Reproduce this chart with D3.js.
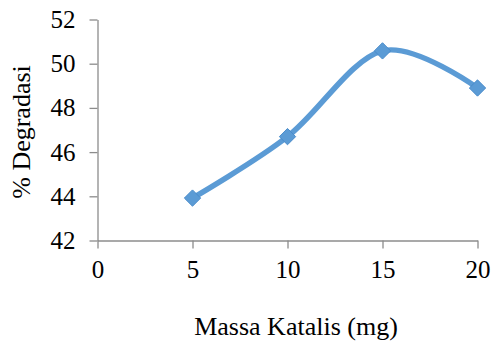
<!DOCTYPE html>
<html><head><meta charset="utf-8">
<script src="https://cdn.jsdelivr.net/npm/d3@7"></script>
<style>body{margin:0;background:#fff}svg{display:block}text{font-family:"Liberation Serif","Times New Roman",serif}</style>
</head><body>
<script>
const massa = [5, 10, 15, 20];
const degradasi = [43.92, 46.7, 50.58, 48.9];
const xTicks = [0, 5, 10, 15, 20];
const yTicks = [42, 44, 46, 48, 50, 52];
const xTitle = "Massa Katalis (mg)";
const yTitle = "% Degradasi";

const W = 494, H = 343;
const svg = d3.select("body").append("svg").attr("width", W).attr("height", H);
const x = d3.scaleLinear().domain([0, 20]).range([97.5, 477.5]);
const y = d3.scaleLinear().domain([42, 52]).range([240.5, 19.5]);
const font = "Liberation Serif";
const axisColor = "#8c8c8c";

const gx = svg.append("g").attr("transform", `translate(0,${y(42)})`)
  .call(d3.axisBottom(x).tickValues(xTicks).tickSize(8).tickSizeOuter(0).tickPadding(12));
const gy = svg.append("g").attr("transform", `translate(${x(0)},0)`)
  .call(d3.axisLeft(y).tickValues(yTicks).tickSize(8).tickSizeOuter(0).tickPadding(14));
[gx, gy].forEach(g => {
  g.attr("font-family", font).attr("font-size", 25);
  g.select(".domain").attr("stroke", axisColor).attr("stroke-width", 1.3);
  g.selectAll(".tick line").attr("stroke", axisColor).attr("stroke-width", 1.3);
  g.selectAll(".tick text").attr("fill", "#000");
});

const line = d3.line().x((d, i) => x(massa[i])).y(d => y(d)).curve(d3.curveCatmullRom.alpha(0));
svg.append("path").datum(degradasi).attr("d", line)
  .attr("fill", "none").attr("stroke", "#5b9bd5").attr("stroke-width", 5.5).attr("stroke-linecap", "round");

const sym = d3.symbol().type(d3.symbolDiamond2).size(170);
svg.selectAll(".mk").data(degradasi).enter().append("path")
  .attr("transform", (d, i) => `translate(${x(massa[i])},${y(d)})`)
  .attr("d", sym).attr("fill", "#5b9bd5").attr("stroke", "#4a8ccb").attr("stroke-width", 1);

svg.append("text").attr("x", 296).attr("y", 335).attr("text-anchor", "middle")
  .attr("font-family", font).attr("font-size", 26).text(xTitle);
svg.append("text").attr("transform", "translate(30,132) rotate(-90)").attr("text-anchor", "middle")
  .attr("font-family", font).attr("font-size", 26).text(yTitle);
</script>
</body></html>
